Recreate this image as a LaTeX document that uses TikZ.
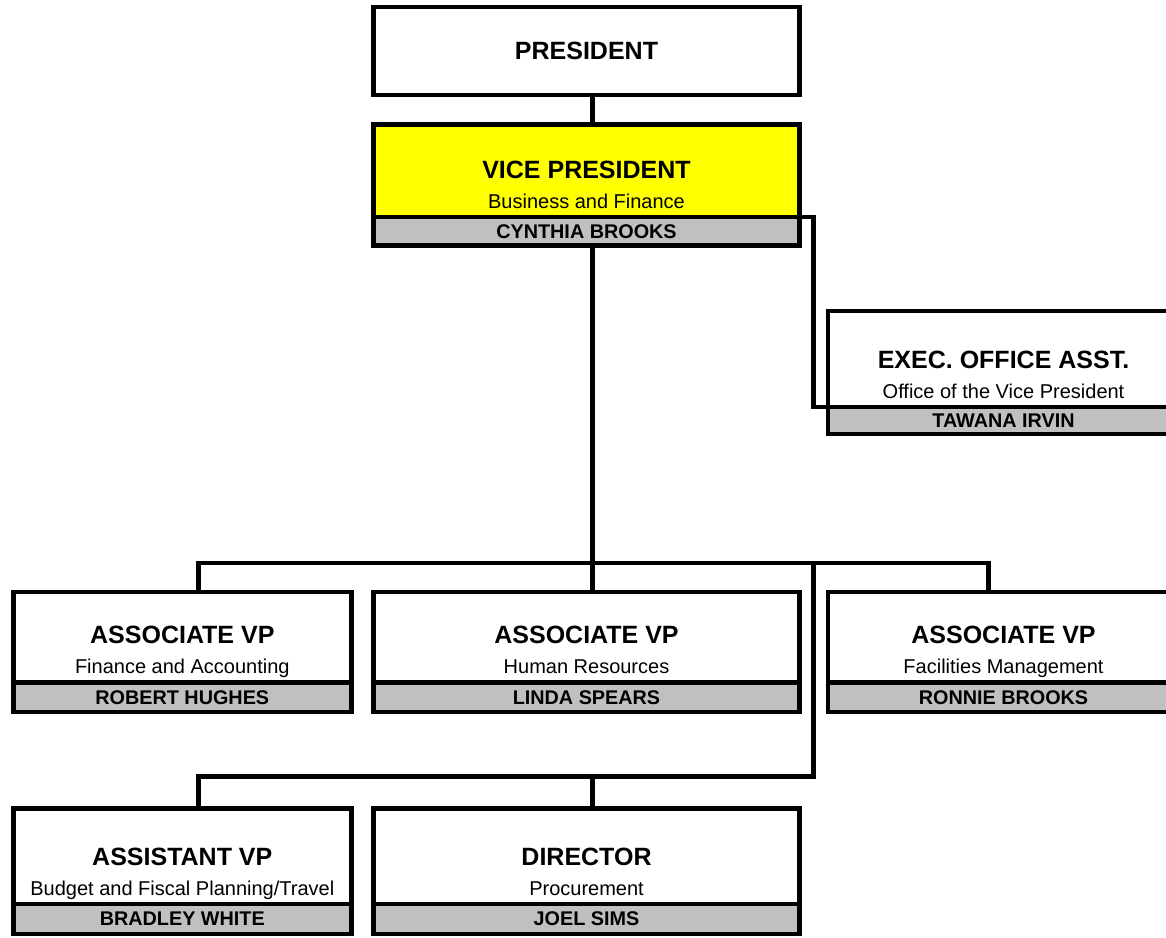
\documentclass[tikz,border=0pt]{standalone}
\usepackage{fontspec}
\setmainfont{Liberation Sans}
\usepackage{tikz}
\usepackage{xcolor}
\definecolor{vpyellow}{HTML}{FFFF00}
\definecolor{bandgray}{HTML}{C0C0C0}
\tikzstyle{link} = [line width=4.6pt]
\tikzstyle{unitbox} = [draw=black, fill=white, line width=4.6pt,
    rectangle, inner sep=0pt, outer sep=0pt, anchor=north west]
\tikzstyle{nameband} = [draw=black, fill=bandgray, line width=4.6pt,
    rectangle, inner sep=0pt, outer sep=0pt, anchor=north, font=\fontsize{19.8}{22}\selectfont\bfseries]
\tikzstyle{unittitle} = [anchor=base, inner sep=0pt, font=\fontsize{25}{30}\selectfont\bfseries]
\tikzstyle{unitsub} = [anchor=base, inner sep=0pt, font=\fontsize{20}{22}\selectfont]
% box with title, subtitle and a grey name band below
\newcommand{\orgunit}[9]{%
  \node[unitbox, fill=#5, minimum width=#3, minimum height=#4] (#1) at #2 {};
  \node[unittitle] (#1-title) at ([yshift=39pt]#1.south) {#6};
  \node[unitsub] (#1-sub) at ([yshift=9pt]#1.south) {#7};
  \node[nameband, minimum width=#3, minimum height=#9] (#1-name) at (#1.south) {#8};
}

\begin{document}
\begin{tikzpicture}[x=1pt, y=-1pt]
\useasboundingbox (0,0) rectangle (1166,937);
\clip (0,0) rectangle (1166,937);

\node[unitbox, minimum width=426.4pt, minimum height=88pt] (pres) at (373.3,7) {};
\node[unittitle, anchor=center] (pres-title) at (pres.center) {PRESIDENT};

\orgunit{vp}{(373.3,124.5)}{426.4pt}{92.5pt}{vpyellow}{VICE PRESIDENT}{Business and Finance}{CYNTHIA BROOKS}{28.5pt}
\orgunit{exec}{(828,311)}{351pt}{96pt}{white}{EXEC. OFFICE ASST.}{Office of the Vice President}{TAWANA IRVIN}{27pt}

\orgunit{avpfin}{(13.3,592)}{338pt}{90.5pt}{white}{ASSOCIATE VP}{Finance and Accounting}{ROBERT HUGHES}{29.5pt}
\orgunit{avphr}{(373.3,592)}{426.4pt}{90.5pt}{white}{ASSOCIATE VP}{Human Resources}{LINDA SPEARS}{29.5pt}
\orgunit{avpfac}{(828,592)}{351pt}{90.5pt}{white}{ASSOCIATE VP}{Facilities Management}{RONNIE BROOKS}{29.5pt}

\orgunit{asstvp}{(13.3,808.3)}{338pt}{95.7pt}{white}{ASSISTANT VP}{Budget and Fiscal Planning/Travel}{BRADLEY WHITE}{30pt}
\orgunit{dir}{(373.3,808.3)}{426.4pt}{95.7pt}{white}{DIRECTOR}{Procurement}{JOEL SIMS}{30pt}

% connector lines
\coordinate (trunk) at (592.3,0);
\coordinate (drop1) at (198.5,0);
\coordinate (drop3) at (988.3,0);
\coordinate (side) at (813.3,0);
\coordinate (bus3) at (0,563);
\coordinate (bus4) at (0,776.3);

\draw[link] (pres.south -| trunk) -- (vp.north -| trunk);
\draw[link] (vp-name.south -| trunk) -- (avphr.north -| trunk);
\draw[link] (avpfin.north -| drop1) -- (drop1 |- bus3) -- (drop3 |- bus3) -- (avpfac.north -| drop3);
\draw[link] (vp.south east) -- (vp.south east -| side) -- (exec.south west -| side) -- (exec.south west);
\draw[link] (side |- bus3) -- (side |- bus4) -- (drop1 |- bus4) -- (asstvp.north -| drop1);
\draw[link] (trunk |- bus4) -- (dir.north -| trunk);
\end{tikzpicture}
\end{document}
